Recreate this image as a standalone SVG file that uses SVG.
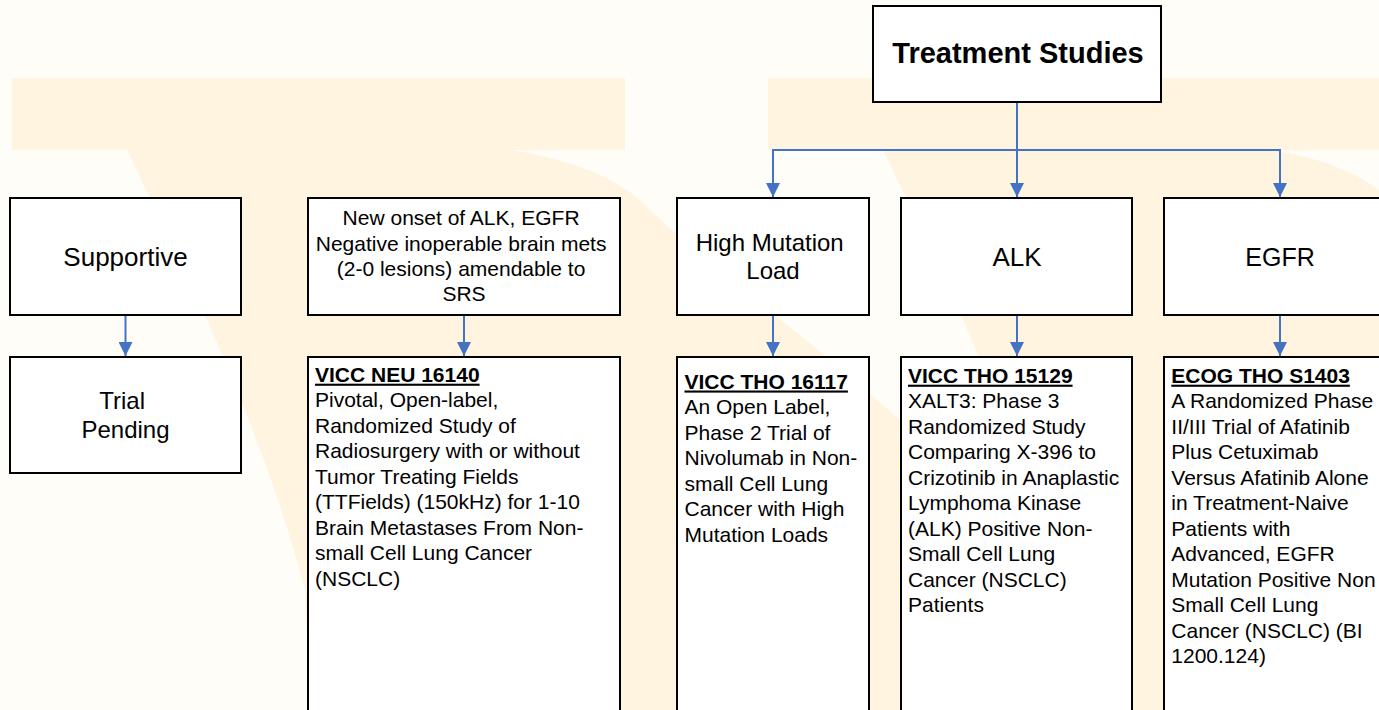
<svg xmlns="http://www.w3.org/2000/svg" width="1379" height="710" viewBox="0 0 1379 710">
  <defs>
    <marker id="arr" markerUnits="userSpaceOnUse" markerWidth="14" markerHeight="14" refX="14" refY="7" orient="auto">
      <path d="M0,0 L14,7 L0,14 Z" fill="#4472C4"/>
    </marker>
  </defs>
  <style>
    .box { fill: #ffffff; stroke: #000000; stroke-width: 2; }
    .t { font-family: "Liberation Sans", Arial, sans-serif; fill: #000000; }
    .c { text-anchor: middle; }
    .b { font-weight: bold; }
    .body { font-size: 21px; }
    .u { font-weight: bold; text-decoration: underline; }
    .conn { fill: none; stroke: #4472C4; stroke-width: 2; marker-end: url(#arr); }
    .wm { fill: #FFF4E0; }
  </style>

  <!-- faint background watermark -->
  <g id="watermark">
    <rect x="0" y="0" width="1379" height="710" fill="#FFFDF8"/>
    <rect class="wm" x="12" y="78" width="613" height="72"/>
    <rect class="wm" x="768" y="78" width="611" height="72"/>
    <path class="wm" d="M127,150 C180,260 260,420 305,590 L310,710 L900,710 L900,420 C800,330 700,260 640,200 Q600,165 513,150 Z"/>
    <path class="wm" d="M883,150 C936,260 1016,420 1061,590 L1066,710 L1379,710 L1379,190 Q1340,160 1269,150 Z"/>
  </g>

  <g id="connectors">
    <path class="conn" d="M1017,103 V197"/>
    <path class="conn" d="M1017,150 H773 V197"/>
    <path class="conn" d="M1017,150 H1280 V197"/>
    <path class="conn" d="M125.5,316 V356"/>
    <path class="conn" d="M464,316 V356"/>
    <path class="conn" d="M773,316 V356"/>
    <path class="conn" d="M1017,316 V356"/>
    <path class="conn" d="M1280,316 V356"/>
  </g>

  <g id="treatment-studies">
    <rect class="box" x="873" y="6" width="288" height="96"/>
    <text class="t c b" x="1018" y="63" font-size="29">Treatment Studies</text>
  </g>

  <g id="supportive">
    <rect class="box" x="10" y="198" width="231" height="117"/>
    <text class="t c" x="125.5" y="266" font-size="26">Supportive</text>
  </g>

  <g id="new-onset">
    <rect class="box" x="308" y="198" width="312" height="117"/>
    <text class="t c" x="464" font-size="21">
      <tspan x="464" y="225">New onset of ALK, EGFR</tspan>
      <tspan x="464" y="250.5">Negative inoperable brain mets</tspan>
      <tspan x="464" y="276">(2-0 lesions) amendable to</tspan>
      <tspan x="464" y="301">SRS</tspan>
    </text>
  </g>

  <g id="high-mutation-load">
    <rect class="box" x="677" y="198" width="192" height="117"/>
    <text class="t c" x="773" font-size="24">
      <tspan x="773" y="251">High Mutation</tspan>
      <tspan x="773" y="279">Load</tspan>
    </text>
  </g>

  <g id="alk">
    <rect class="box" x="901" y="198" width="231" height="117"/>
    <text class="t c" x="1017" y="266" font-size="26">ALK</text>
  </g>

  <g id="egfr">
    <rect class="box" x="1164" y="198" width="240" height="117"/>
    <text class="t c" x="1280" y="266" font-size="25">EGFR</text>
  </g>

  <g id="trial-pending">
    <rect class="box" x="10" y="357" width="231" height="116"/>
    <text class="t c" x="125.5" font-size="24">
      <tspan x="125.5" y="409">Trial</tspan>
      <tspan x="125.5" y="438">Pending</tspan>
    </text>
  </g>

  <g id="vicc-neu-16140">
    <rect class="box" x="308" y="357" width="312" height="370"/>
    <text class="t body" x="315">
      <tspan class="u" x="315" y="381.7">VICC NEU 16140</tspan>
      <tspan x="315" y="407.2">Pivotal, Open-label,</tspan>
      <tspan x="315" y="432.7">Randomized Study of</tspan>
      <tspan x="315" y="458.2">Radiosurgery with or without</tspan>
      <tspan x="315" y="483.7">Tumor Treating Fields</tspan>
      <tspan x="315" y="509.2">(TTFields) (150kHz) for 1-10</tspan>
      <tspan x="315" y="534.7">Brain Metastases From Non-</tspan>
      <tspan x="315" y="560.2">small Cell Lung Cancer</tspan>
      <tspan x="315" y="585.7">(NSCLC)</tspan>
    </text>
  </g>

  <g id="vicc-tho-16117">
    <rect class="box" x="677" y="357" width="192" height="370"/>
    <text class="t body" x="684.5">
      <tspan class="u" x="684.5" y="388.5">VICC THO 16117</tspan>
      <tspan x="684.5" y="414">An Open Label,</tspan>
      <tspan x="684.5" y="439.5">Phase 2 Trial of</tspan>
      <tspan x="684.5" y="465">Nivolumab in Non-</tspan>
      <tspan x="684.5" y="490.5">small Cell Lung</tspan>
      <tspan x="684.5" y="516">Cancer with High</tspan>
      <tspan x="684.5" y="541.5">Mutation Loads</tspan>
    </text>
  </g>

  <g id="vicc-tho-15129">
    <rect class="box" x="901" y="357" width="231" height="370"/>
    <text class="t body" x="908">
      <tspan class="u" x="908" y="382.7">VICC THO 15129</tspan>
      <tspan x="908" y="408.2">XALT3: Phase 3</tspan>
      <tspan x="908" y="433.7">Randomized Study</tspan>
      <tspan x="908" y="459.2">Comparing X-396 to</tspan>
      <tspan x="908" y="484.7">Crizotinib in Anaplastic</tspan>
      <tspan x="908" y="510.2">Lymphoma Kinase</tspan>
      <tspan x="908" y="535.7">(ALK) Positive Non-</tspan>
      <tspan x="908" y="561.2">Small Cell Lung</tspan>
      <tspan x="908" y="586.7">Cancer (NSCLC)</tspan>
      <tspan x="908" y="612.2">Patients</tspan>
    </text>
  </g>

  <g id="ecog-tho-s1403">
    <rect class="box" x="1164" y="357" width="240" height="370"/>
    <text class="t body" x="1171.3">
      <tspan class="u" x="1171.3" y="382.7">ECOG THO S1403</tspan>
      <tspan x="1171.3" y="408.2">A Randomized Phase</tspan>
      <tspan x="1171.3" y="433.7">II/III Trial of Afatinib</tspan>
      <tspan x="1171.3" y="459.2">Plus Cetuximab</tspan>
      <tspan x="1171.3" y="484.7">Versus Afatinib Alone</tspan>
      <tspan x="1171.3" y="510.2">in Treatment-Naive</tspan>
      <tspan x="1171.3" y="535.7">Patients with</tspan>
      <tspan x="1171.3" y="561.2">Advanced, EGFR</tspan>
      <tspan x="1171.3" y="586.7">Mutation Positive Non</tspan>
      <tspan x="1171.3" y="612.2">Small Cell Lung</tspan>
      <tspan x="1171.3" y="637.7">Cancer (NSCLC) (BI</tspan>
      <tspan x="1171.3" y="663.2">1200.124)</tspan>
    </text>
  </g>
</svg>
